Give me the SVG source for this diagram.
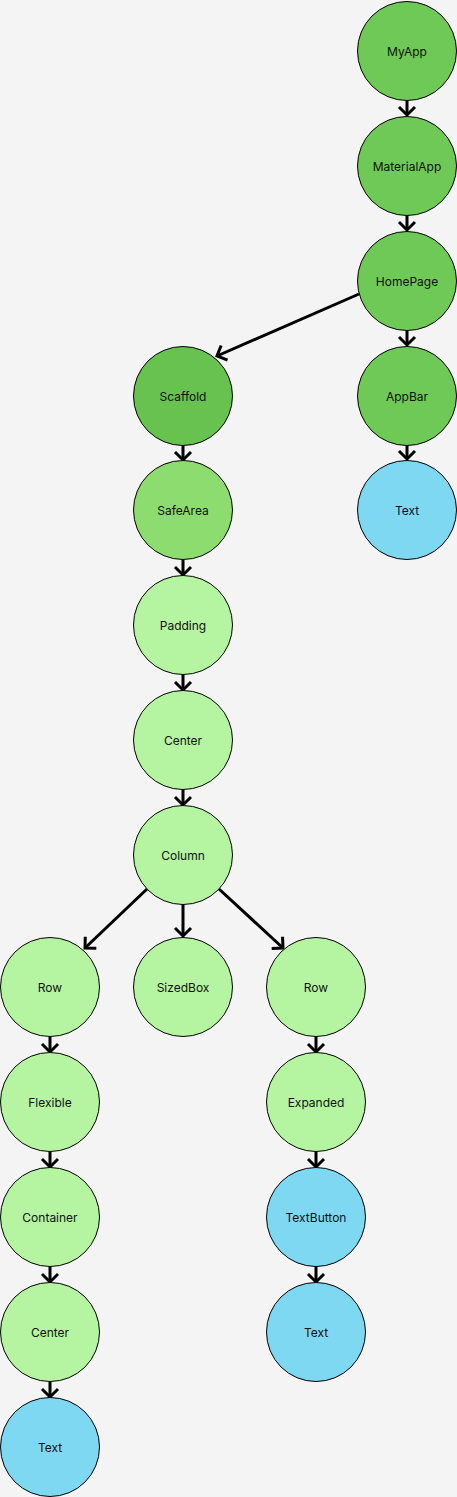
<svg xmlns="http://www.w3.org/2000/svg" width="457" height="1497" viewBox="0 0 457 1497">
<defs>
<style>
.n{stroke:#000;stroke-width:1}
.g1{fill:#6fc957}
.g2{fill:#68c250}
.g3{fill:#8ddc6f}
.g4{fill:#b5f5a1}
.b{fill:#7fd8f2}
text{font-family:Inter,"Liberation Sans",sans-serif;font-size:12px;fill:#111;text-anchor:middle;dominant-baseline:central}
.e{stroke:#000;stroke-width:3;fill:none;marker-end:url(#a)}
</style>
<marker id="a" markerUnits="userSpaceOnUse" viewBox="-12 -12 24 24" markerWidth="24" markerHeight="24" refX="0" refY="0" orient="auto">
<path d="M-8,-8 L0,0 L-8,8" fill="none" stroke="#000" stroke-width="3"/>
</marker>
</defs>
<rect width="457" height="1497" fill="#f4f4f4"/>
<g id="connectors">
<line class="e" x1="407" y1="100" x2="407" y2="115"/>
<line class="e" x1="407" y1="215" x2="407" y2="230"/>
<line class="e" x1="407" y1="330" x2="407" y2="345"/>
<line class="e" x1="407" y1="445" x2="407" y2="459"/>
<line class="e" x1="359" y1="294" x2="217" y2="356"/>
<line class="e" x1="183" y1="445" x2="183" y2="460"/>
<line class="e" x1="183" y1="560" x2="183" y2="575"/>
<line class="e" x1="183" y1="674" x2="183" y2="690"/>
<line class="e" x1="183" y1="789" x2="183" y2="805"/>
<line class="e" x1="147" y1="889" x2="85" y2="948"/>
<line class="e" x1="183" y1="904" x2="183" y2="936"/>
<line class="e" x1="219" y1="889" x2="283" y2="948"/>
<line class="e" x1="50" y1="1037" x2="50" y2="1052"/>
<line class="e" x1="50" y1="1152" x2="50" y2="1167"/>
<line class="e" x1="50" y1="1267" x2="50" y2="1282"/>
<line class="e" x1="50" y1="1382" x2="50" y2="1397"/>
<line class="e" x1="316" y1="1036" x2="316" y2="1052"/>
<line class="e" x1="316" y1="1151" x2="316" y2="1167"/>
<line class="e" x1="316" y1="1266" x2="316" y2="1282"/>
</g>
<g id="MyApp"><circle class="n g1" cx="407" cy="51" r="49.5"/><text x="407" y="51">MyApp</text></g>
<g id="MaterialApp"><circle class="n g1" cx="407" cy="166" r="49.5"/><text x="407" y="166">MaterialApp</text></g>
<g id="HomePage"><circle class="n g1" cx="407" cy="281" r="49.5"/><text x="407" y="281">HomePage</text></g>
<g id="AppBar"><circle class="n g1" cx="407" cy="396" r="49.5"/><text x="407" y="396">AppBar</text></g>
<g id="Text1"><circle class="n b" cx="407" cy="510" r="49.5"/><text x="407" y="510">Text</text></g>
<g id="Scaffold"><circle class="n g2" cx="183" cy="396" r="49.5"/><text x="183" y="396">Scaffold</text></g>
<g id="SafeArea"><circle class="n g3" cx="183" cy="510" r="49.5"/><text x="183" y="510">SafeArea</text></g>
<g id="Padding"><circle class="n g4" cx="183" cy="625" r="49.5"/><text x="183" y="625">Padding</text></g>
<g id="Center1"><circle class="n g4" cx="183" cy="740" r="49.5"/><text x="183" y="740">Center</text></g>
<g id="Column"><circle class="n g4" cx="183" cy="855" r="49.5"/><text x="183" y="855">Column</text></g>
<g id="Row1"><circle class="n g4" cx="50" cy="987" r="49.5"/><text x="50" y="987">Row</text></g>
<g id="SizedBox"><circle class="n g4" cx="183" cy="987" r="49.5"/><text x="183" y="987">SizedBox</text></g>
<g id="Row2"><circle class="n g4" cx="316" cy="987" r="49.5"/><text x="316" y="987">Row</text></g>
<g id="Flexible"><circle class="n g4" cx="50" cy="1102" r="49.5"/><text x="50" y="1102">Flexible</text></g>
<g id="Container"><circle class="n g4" cx="50" cy="1217" r="49.5"/><text x="50" y="1217">Container</text></g>
<g id="Center2"><circle class="n g4" cx="50" cy="1332" r="49.5"/><text x="50" y="1332">Center</text></g>
<g id="Text2"><circle class="n b" cx="50" cy="1447" r="49.5"/><text x="50" y="1447">Text</text></g>
<g id="Expanded"><circle class="n g4" cx="316" cy="1102" r="49.5"/><text x="316" y="1102">Expanded</text></g>
<g id="TextButton"><circle class="n b" cx="316" cy="1217" r="49.5"/><text x="316" y="1217">TextButton</text></g>
<g id="Text3"><circle class="n b" cx="316" cy="1332" r="49.5"/><text x="316" y="1332">Text</text></g>
</svg>
